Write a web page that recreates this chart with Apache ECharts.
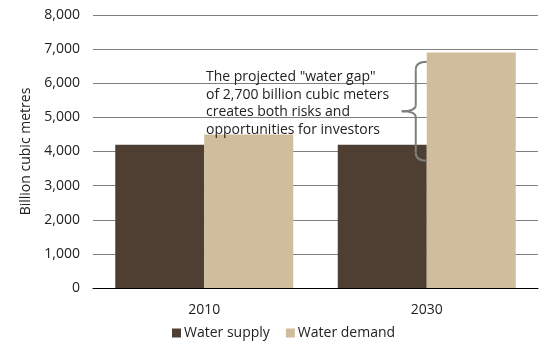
<!DOCTYPE html>
<html>
<head>
<meta charset="utf-8">
<script src="https://cdn.jsdelivr.net/npm/echarts@6/dist/echarts.min.js"></script>
<style>
  html, body { margin: 0; padding: 0; background: #fff; }
  #chart { width: 540px; height: 344px; }
</style>
</head>
<body>
<div id="chart"></div>
<script>
// Global water supply vs. demand, billion cubic metres
const years = ['2010', '2030'];
const waterSupply = [4200, 4200];
const waterDemand = [4500, 6900];
const yTicks = [0, 1000, 2000, 3000, 4000, 5000, 6000, 7000, 8000];

const FONT = '"Open Sans", "DejaVu Sans", sans-serif';
const SUPPLY_COLOR = '#4e3f32';
const DEMAND_COLOR = '#cfbd9b';

const chart = echarts.init(document.getElementById('chart'), null, { renderer: 'canvas' });

chart.setOption({
  animation: false,
  textStyle: { fontFamily: FONT, color: '#222' },
  grid: { left: 93, right: 2, top: 15, bottom: 56 },
  legend: {
    left: 167,
    top: 321,
    itemWidth: 9,
    itemHeight: 9,
    itemGap: 16,
    icon: 'rect',
    textStyle: { fontFamily: FONT, fontSize: 14, color: '#222', padding: [0, 0, 0, -2] },
    data: ['Water supply', 'Water demand']
  },
  xAxis: {
    type: 'category',
    data: years,
    axisLine: { show: true, lineStyle: { color: '#000', width: 1 } },
    axisTick: { show: false },
    axisLabel: { fontFamily: FONT, fontSize: 14, color: '#222', margin: 15 }
  },
  yAxis: {
    type: 'value',
    min: yTicks[0],
    max: yTicks[yTicks.length - 1],
    interval: 1000,
    name: 'Billion cubic metres',
    nameLocation: 'middle',
    nameGap: 58,
    nameTextStyle: { fontFamily: FONT, fontSize: 14, color: '#222' },
    axisLine: { show: false },
    axisTick: { show: false },
    splitLine: { lineStyle: { color: '#808080', width: 1 } },
    axisLabel: {
      fontFamily: FONT, fontSize: 14, color: '#222', margin: 13,
      formatter: v => v.toLocaleString('en-US')
    }
  },
  series: [
    {
      name: 'Water supply',
      type: 'bar',
      data: waterSupply,
      barWidth: 89,
      barGap: '0%',
      itemStyle: { color: SUPPLY_COLOR }
    },
    {
      name: 'Water demand',
      type: 'bar',
      data: waterDemand,
      barWidth: 89,
      itemStyle: { color: DEMAND_COLOR }
    }
  ]
});

// Curly brace marking the 2030 gap, anchored to the 2030 demand bar's left edge
function drawAnnotation() {
  const xr = chart.convertToPixel({ xAxisIndex: 0 }, years[1]);
  const yt = chart.convertToPixel({ yAxisIndex: 0 }, 6630);
  const yb = chart.convertToPixel({ yAxisIndex: 0 }, 3730);
  const ym = (yt + yb) / 2;
  const xv = xr - 11;
  const xt = xr - 25;
  const r = 8;
  const braceStyle = { fill: 'none', stroke: '#7f7f7f', lineWidth: 2 };

  const curve = (x1, y1, cx, cy, x2, y2) => ({
    type: 'bezierCurve', z: 10,
    shape: { x1, y1, cpx1: cx, cpy1: cy, x2, y2 },
    style: braceStyle
  });
  const seg = (x1, y1, x2, y2) => ({
    type: 'line', z: 10,
    shape: { x1, y1, x2, y2 },
    style: braceStyle
  });

  chart.setOption({
    graphic: [
      curve(xr, yt, xv, yt, xv, yt + r),
      seg(xv, yt + r, xv, ym - 6),
      curve(xv, ym - 6, xv, ym, xt, ym),
      curve(xt, ym, xv, ym, xv, ym + 6),
      seg(xv, ym + 6, xv, yb - r),
      curve(xv, yb - r, xv, yb, xr, yb),
      {
        type: 'text',
        left: 206,
        top: 68,
        z: 10,
        style: {
          text: 'The projected "water gap"\nof 2,700 billion cubic meters\ncreates both risks and\nopportunities for investors',
          font: '14px ' + FONT,
          fill: '#222',
          lineHeight: 17.7
        }
      }
    ]
  });
}
drawAnnotation();
</script>
</body>
</html>
